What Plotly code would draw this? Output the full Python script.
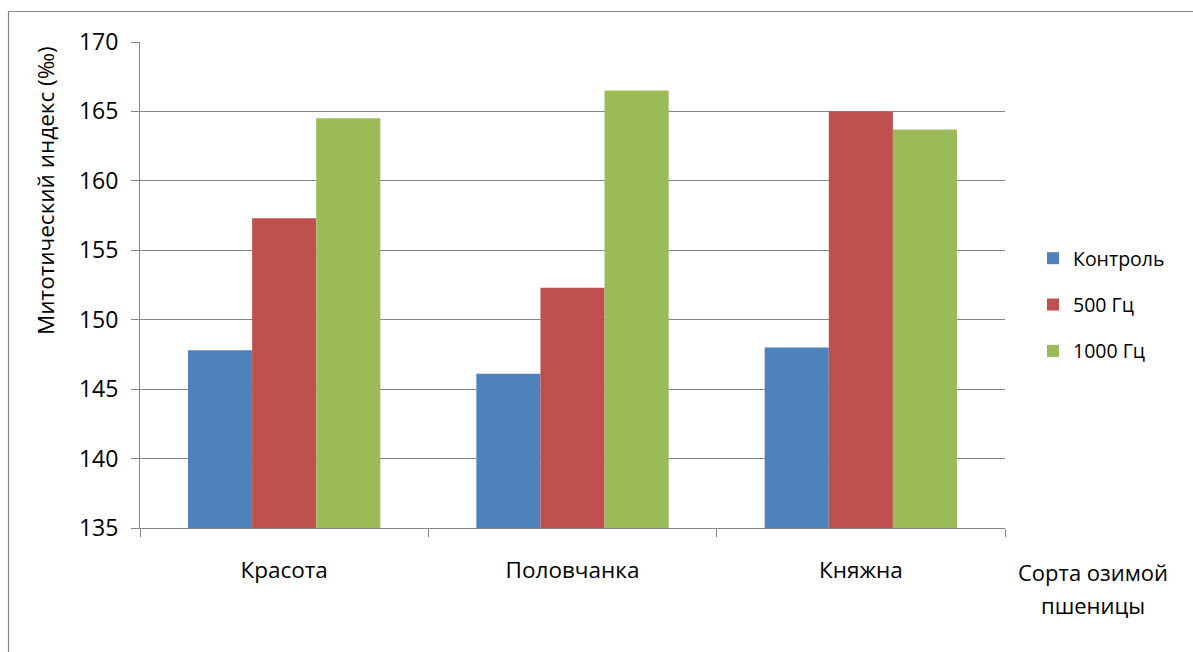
import plotly.graph_objects as go

categories = ["Красота", "Половчанка", "Княжна"]
series_names = ["Контроль", "500 Гц", "1000 Гц"]
control = [147.8, 146.1, 148.0]
hz500 = [157.3, 152.3, 165.0]
hz1000 = [164.5, 166.5, 163.7]
colors = ["#4F81BD", "#C0504D", "#9BBB59"]
y_title = "Митотический индекс (‰)"
x_title_lines = ["Сорта озимой", "пшеницы"]

FONT = "Open Sans"
W, H = 1193, 652
L, R, T, B = 140, 188, 42, 124

fig = go.Figure()
for i, (name, vals) in enumerate(zip(series_names, [control, hz500, hz1000])):
    fig.add_trace(go.Bar(
        x=categories, y=vals, name=name, marker_color=colors[i],
        marker_line_width=0, legendgroup=name,
    ))

pw = W - L - R
ph = H - T - B
def px2x(px):
    return (px - L) / pw
def py2y(py):
    return (H - B - py) / ph

fig.update_layout(
    width=W, height=H,
    margin=dict(l=L, r=R, t=T, b=B, pad=0),
    paper_bgcolor="white", plot_bgcolor="white",
    barmode="group", bargap=0.333, bargroupgap=0,
    font=dict(family=FONT, size=22, color="#000000"),
    legend=dict(
        x=px2x(1033), y=py2y(305), xanchor="left", yanchor="middle",
        font=dict(size=19.5), traceorder="grouped", tracegroupgap=18,
        itemwidth=30, bgcolor="rgba(0,0,0,0)",
    ),
    xaxis=dict(
        type="category", showgrid=False, showline=True, linecolor="#868686", linewidth=1,
        ticks="outside", tickson="boundaries", ticklen=8, tickcolor="#868686",
        tickfont=dict(size=22.5), ticklabelstandoff=22,
    ),
    yaxis=dict(
        range=[135, 170], tick0=135, dtick=5, showgrid=True, gridcolor="#868686", gridwidth=1,
        showline=True, linecolor="#868686", linewidth=1, ticks="outside", ticklen=8,
        tickcolor="#868686", tickfont=dict(size=23), zeroline=False, ticklabelstandoff=8,
    ),
    annotations=[
        dict(text=y_title, textangle=-90, x=px2x(45), y=py2y(191), xref="paper", yref="paper",
             showarrow=False, font=dict(size=22.5), xanchor="center", yanchor="middle"),
        dict(text=x_title_lines[0], x=px2x(1093), y=py2y(572), xref="paper", yref="paper",
             showarrow=False, font=dict(size=22), xanchor="center", yanchor="middle"),
        dict(text=x_title_lines[1], x=px2x(1093), y=py2y(605), xref="paper", yref="paper",
             showarrow=False, font=dict(size=22), xanchor="center", yanchor="middle"),
    ],
    shapes=[
        dict(type="path", xref="paper", yref="paper",
             path=f"M {px2x(8.5)},{py2y(700)} L {px2x(8.5)},{py2y(11.5)} L {px2x(1250)},{py2y(11.5)}",
             line=dict(color="#868686", width=1.2)),
    ],
)

fig.write_html("out.html")
